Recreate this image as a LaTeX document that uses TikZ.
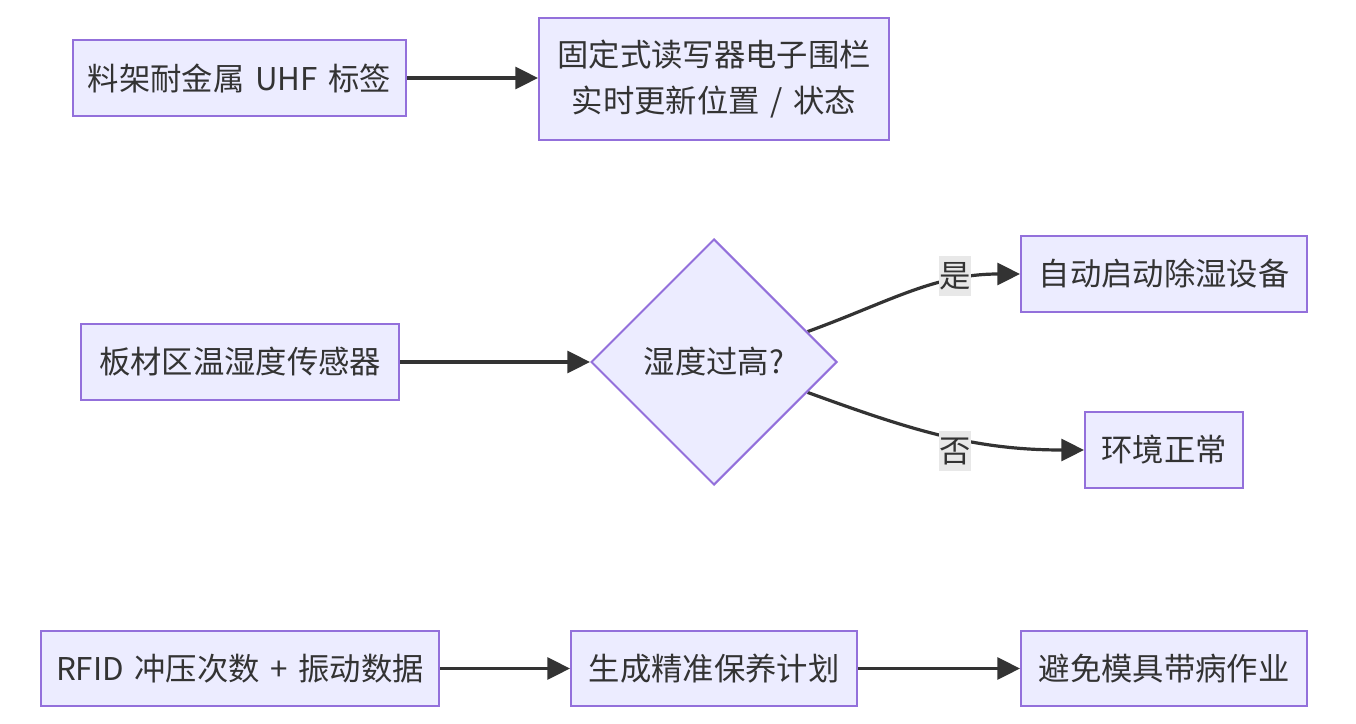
\documentclass[tikz,border=0pt]{standalone}
\usepackage{fontspec}
\setmainfont{Noto Sans CJK SC}
\usetikzlibrary{shapes.geometric,arrows.meta}
\definecolor{nfill}{HTML}{ECECFF}
\definecolor{nline}{HTML}{9370DB}
\definecolor{ecol}{HTML}{333333}
\definecolor{lbg}{HTML}{E8E8E8}
\pgfdeclarelayer{bg}
\pgfsetlayers{bg,main}
\newcommand{\diagfont}{\fontsize{23.5pt}{35pt}\selectfont}
\newcommand{\wsp}{\hspace{0.34em}}
\begin{document}
\begin{tikzpicture}[x=0.75pt,y=-0.75pt,
  txt/.style={text=ecol,font=\diagfont},
  box/.style={txt,draw=nline,fill=nfill,line width=1.5pt,align=center,inner sep=0pt},
  decision/.style={box,diamond,aspect=1,minimum width=184.5pt,minimum height=184.5pt},
  edge/.style={draw=ecol,line width=2.4pt,-{Triangle[length=17pt,width=16.5pt]}},
  lbl/.style={txt,fill=lbg,inner sep=0pt,minimum width=24pt,minimum height=30pt}]
\useasboundingbox (0,0) rectangle (1356,724);
% nodes
\node[box,minimum width=249.75pt,minimum height=57pt] (A) at (239.5,78) {料架耐金属\wsp UHF\wsp 标签};
\node[box,minimum width=262.5pt,minimum height=90.75pt] (B) at (714,79) {固定式读写器电子围栏\\实时更新位置\wsp /\wsp 状态};
\node[box,minimum width=238.5pt,minimum height=57pt] (C) at (240,362) {板材区温湿度传感器};
\node[decision] (D) at (714,362) {湿度过高?};
\node[box,minimum width=214.5pt,minimum height=57pt] (E) at (1164,274) {自动启动除湿设备};
\node[box,minimum width=118.5pt,minimum height=57pt] (F) at (1164,450) {环境正常};
\node[box,minimum width=298.5pt,minimum height=56.25pt] (G) at (240,668.5) {RFID\wsp 冲压次数\wsp +\wsp 振动数据};
\node[box,minimum width=214.5pt,minimum height=56.25pt] (H) at (714,668.5) {生成精准保养计划};
\node[box,minimum width=214.5pt,minimum height=56.25pt] (I) at (1164,668.5) {避免模具带病作业};
% edge labels
\node[lbl] (ly) at (955,276) {是};
\node[lbl] (ln) at (955,451) {否};
% edges
\begin{pgfonlayer}{bg}
\draw[edge] (A.east) -- (A.east -| B.west);
\draw[edge] (C.east) -- (D.west);
\draw[edge] (D.18.6) to[out=20,in=180] (E.west);
\draw[edge] (D.-18.6) to[out=-20,in=180] (F.west);
\draw[edge] (G.east) -- (H.west);
\draw[edge] (H.east) -- (I.west);
\end{pgfonlayer}
\end{tikzpicture}
\end{document}
